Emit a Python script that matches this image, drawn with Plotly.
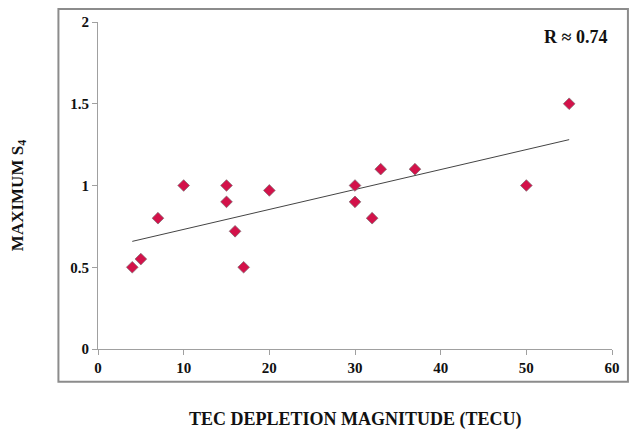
import numpy as np
import plotly.graph_objects as go

# Data
tec_depletion = [4, 5, 7, 10, 15, 15, 16, 17, 20, 30, 30, 32, 33, 37, 50, 55]
max_s4 = [0.5, 0.55, 0.8, 1.0, 1.0, 0.9, 0.72, 0.5, 0.97, 1.0, 0.9, 0.8, 1.1, 1.1, 1.0, 1.5]
x_ticks = [0, 10, 20, 30, 40, 50, 60]
x_tick_labels = ["0", "10", "20", "30", "40", "50", "60"]
y_ticks = [0, 0.5, 1, 1.5, 2]
y_tick_labels = ["0", "0.5", "1", "1.5", "2"]
r_label = "R ≈ 0.74"

# Linear trendline fitted to the data
slope, intercept = np.polyfit(tec_depletion, max_s4, 1)
trend_x = [min(tec_depletion), max(tec_depletion)]
trend_y = [slope * v + intercept for v in trend_x]

FONT = "Liberation Serif"

fig = go.Figure()
fig.add_trace(go.Scatter(
    x=trend_x, y=trend_y, mode="lines",
    line=dict(color="#444444", width=1),
    showlegend=False, hoverinfo="skip",
))
fig.add_trace(go.Scatter(
    x=tec_depletion, y=max_s4, mode="markers",
    marker=dict(symbol="diamond", size=9, color="#d3124a",
                line=dict(color="#7a6a70", width=0.7)),
    showlegend=False,
))

fig.update_layout(
    width=630, height=431,
    margin=dict(l=98, r=18, t=22, b=82),
    paper_bgcolor="white", plot_bgcolor="white",
    font=dict(family=FONT, color="#111111"),
    xaxis=dict(
        range=[0, 60], tickvals=x_ticks,
        ticktext=["<b>" + t + "</b>" for t in x_tick_labels],
        showgrid=False, zeroline=False,
        showline=True, linecolor="#a0a0a0", linewidth=1,
        ticks="outside", ticklen=5, tickcolor="#a0a0a0",
        tickfont=dict(family=FONT, size=15, color="#111111"),
        fixedrange=True, automargin=False,
    ),
    yaxis=dict(
        range=[0, 2], tickvals=y_ticks,
        ticktext=["<b>" + t + "</b>" for t in y_tick_labels],
        showgrid=False, zeroline=False,
        showline=True, linecolor="#a0a0a0", linewidth=1,
        ticks="outside", ticklen=5, tickcolor="#a0a0a0",
        tickfont=dict(family=FONT, size=15, color="#111111"),
        fixedrange=True, automargin=False,
    ),
    shapes=[dict(
        type="rect", xref="paper", yref="paper",
        x0=-0.077, x1=1.031, y0=-0.100, y1=1.040,
        line=dict(color="#8c8c8c", width=2), fillcolor="rgba(0,0,0,0)",
    )],
    annotations=[
        dict(text="<b>" + r_label + "</b>", xref="paper", yref="paper",
             x=0.994, y=0.955, xanchor="right", yanchor="middle", showarrow=False,
             font=dict(family=FONT, size=18, color="#111111")),
        dict(text="<b>TEC DEPLETION MAGNITUDE (TECU)</b>", xref="paper", yref="paper",
             x=0.5, y=-0.215, xanchor="center", yanchor="middle", showarrow=False,
             font=dict(family=FONT, size=18, color="#111111")),
        dict(text="<b>MAXIMUM S<sub>4</sub></b>", xref="paper", yref="paper",
             x=-0.154, y=0.47, xanchor="center", yanchor="middle", showarrow=False,
             textangle=-90,
             font=dict(family=FONT, size=17, color="#111111")),
    ],
)

fig.write_html(
    "out.html",
    config={"displayModeBar": False},
    post_script="document.documentElement.style.margin='0';"
                "document.body.style.margin='0';"
                "document.body.style.overflow='hidden';",
)
